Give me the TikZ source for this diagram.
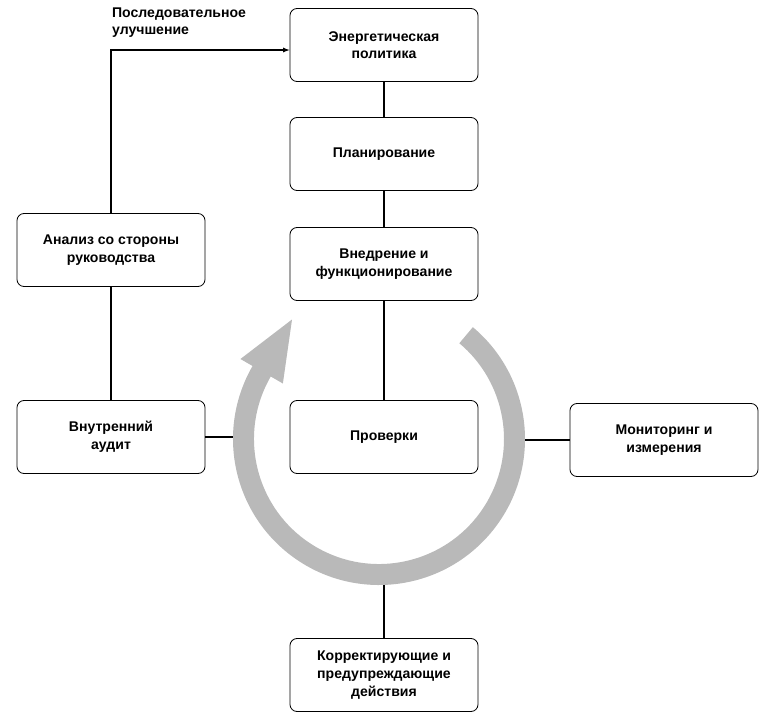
\documentclass[tikz,border=0pt]{standalone}
\usepackage{fontspec}
\setmainfont{Liberation Sans}
\begin{document}
\begin{tikzpicture}[x=0.03cm,y=-0.03cm,
  box/.style={draw,rounded corners=6pt,line width=0.7pt,minimum width=188*0.03cm,minimum height=73*0.03cm,align=center,font=\fontsize{12}{15}\selectfont\bfseries},
  ln/.style={line width=0.9pt}]
\useasboundingbox (0,0) rectangle (772,719);
\begin{scope}[shift={(379,439)},x=0.03cm,y=0.03cm]
\fill[gray!55] (50:146) arc (50:-210:146) -- (-210:160) -- (-87,119.5) -- (-210:111) -- (-210:125) arc (-210:50:125) -- cycle;
\end{scope}
\node[box] (pol) at (384,45) {Энергетическая\\политика};
\node[box] (plan) at (384,154) {Планирование};
\node[box] (vn) at (384,264) {Внедрение и\\функционирование};
\node[box] (pr) at (384,437) {Проверки};
\node[box] (kor) at (384,675) {Корректирующие и\\предупреждающие\\действия};
\node[box] (an) at (111,250) {Анализ со стороны\\руководства};
\node[box] (au) at (111,437) {Внутренний\\аудит};
\node[box] (mon) at (664,440) {Мониторинг и\\измерения};
\coordinate (rl) at (233,437);
\coordinate (rr) at (525,440);
\coordinate (rb) at (384,585);
\coordinate (corner) at (111,50);
\draw[ln] (pol) -- (plan);
\draw[ln] (plan) -- (vn);
\draw[ln] (vn) -- (pr);
\draw[ln] (rb) -- (kor);
\draw[ln] (au) -- (rl);
\draw[ln] (rr) -- (mon);
\draw[ln] (au) -- (an);
\draw[ln,-latex] (an.north) -- (corner) -- (corner -| pol.west);
\node[font=\fontsize{12}{15}\selectfont\bfseries,align=left,anchor=south west] (lab) at (108,42) {Последовательное\\улучшение};
\end{tikzpicture}
\end{document}
